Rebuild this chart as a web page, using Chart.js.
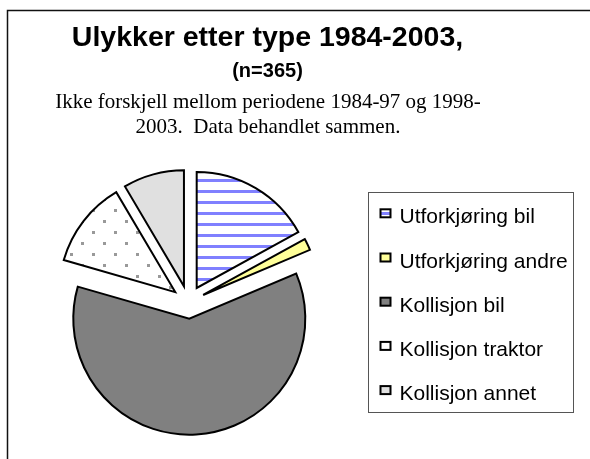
<!DOCTYPE html>
<html><head><meta charset="utf-8">
<script src="https://cdn.jsdelivr.net/npm/chart.js@4.4.1/dist/chart.umd.min.js"></script>
<style>html,body{margin:0;padding:0;background:#fff;overflow:hidden}#wrap{position:relative;width:590px;height:459px}</style>
</head><body><div id="wrap"><canvas id="c" width="590" height="459"></canvas></div>
<script>
// ---- data ----
const categories = ['Utforkjøring bil', 'Utforkjøring andre', 'Kollisjon bil', 'Kollisjon traktor', 'Kollisjon annet'];
const counts = [62, 6, 222, 44, 31];
const titleText = 'Ulykker etter type 1984-2003,';
const subtitleText = '(n=365)';
const noteLines = ['Ikke forskjell mellom periodene 1984-97 og 1998-', '2003.  Data behandlet sammen.'];

// ---- styles ----
function makePattern(w, h, draw) {
  const c = document.createElement('canvas');
  c.width = w; c.height = h;
  const x = c.getContext('2d');
  draw(x);
  return c.getContext('2d').createPattern(c, 'repeat');
}
const stripePattern = makePattern(11, 11, x => {
  x.fillStyle = '#ffffff'; x.fillRect(0, 0, 11, 11);
  x.fillStyle = '#8080ff'; x.fillRect(0, 3, 11, 3);
});
const dotPattern = makePattern(22, 22, x => {
  x.fillStyle = '#ffffff'; x.fillRect(0, 0, 22, 22);
  x.fillStyle = '#999999'; x.fillRect(15, 0, 3, 3); x.fillRect(4, 11, 3, 3);
});
const fills = [stripePattern, '#ffff99', '#808080', dotPattern, '#e0e0e0'];
const EXPLODE = 16.5; // px each slice is pulled out from the centre

// pulls every slice out along its own mid-angle
const explode = {
  id: 'explode',
  afterDatasetsUpdate(chart) {
    chart.getDatasetMeta(0).data.forEach(arc => {
      const mid = (arc.startAngle + arc.endAngle) / 2;
      arc.x += Math.cos(mid) * EXPLODE;
      arc.y += Math.sin(mid) * EXPLODE;
    });
  }
};

const decor = {
  id: 'decor',
  beforeDraw(chart) {
    const ctx = chart.ctx;
    ctx.save();
    ctx.fillStyle = '#fff';
    ctx.fillRect(0, 0, chart.width, chart.height);
    // chart frame
    ctx.strokeStyle = '#111';
    ctx.lineWidth = 1.5;
    ctx.beginPath();
    ctx.moveTo(7.5, chart.height + 2);
    ctx.lineTo(7.5, 10.5);
    ctx.lineTo(chart.width + 2, 10.5);
    ctx.stroke();
    // titles
    ctx.fillStyle = '#000';
    ctx.textAlign = 'center';
    ctx.textBaseline = 'alphabetic';
    ctx.font = 'bold 28.5px "Liberation Sans", Arial, sans-serif';
    ctx.fillText(titleText, 267.5, 46);
    ctx.font = 'bold 20px "Liberation Sans", Arial, sans-serif';
    ctx.fillText(subtitleText, 267.5, 77);
    ctx.font = '21px "Liberation Serif", "Times New Roman", serif';
    ctx.fillText(noteLines[0], 268, 108);
    ctx.fillText(noteLines[1], 268, 133);
    ctx.restore();
  },
  afterDraw(chart) {
    const ctx = chart.ctx;
    ctx.save();
    // legend box
    ctx.strokeStyle = '#555';
    ctx.lineWidth = 1;
    ctx.strokeRect(368.5, 192.5, 205, 220);
    const labels = chart.data.labels;
    const ds = chart.data.datasets[0];
    ctx.font = '21px "Liberation Sans", Arial, sans-serif';
    ctx.textAlign = 'left';
    ctx.textBaseline = 'alphabetic';
    labels.forEach((lab, i) => {
      const base = 223.3 + i * 44.2;
      ctx.fillStyle = ds.backgroundColor[i];
      ctx.fillRect(380.5, base - 14, 10, 8);
      ctx.strokeStyle = '#000';
      ctx.lineWidth = 2;
      ctx.strokeRect(380.5, base - 14, 10, 8);
      ctx.fillStyle = '#000';
      ctx.fillText(lab, 399.5, base);
    });
    ctx.restore();
  }
};

new Chart(document.getElementById('c'), {
  type: 'pie',
  data: {
    labels: categories,
    datasets: [{
      data: counts,
      backgroundColor: fills,
      borderColor: '#000',
      borderWidth: 2,
      borderJoinStyle: 'miter'
    }]
  },
  options: {
    responsive: false,
    animation: false,
    events: [],
    radius: 116,
    rotation: 0,
    layout: { padding: { left: 88.3, right: 301.7, top: 202.2, bottom: 56.8 } },
    plugins: {
      legend: { display: false },
      title: { display: false },
      tooltip: { enabled: false }
    }
  },
  plugins: [explode, decor]
});
</script>
</body></html>
